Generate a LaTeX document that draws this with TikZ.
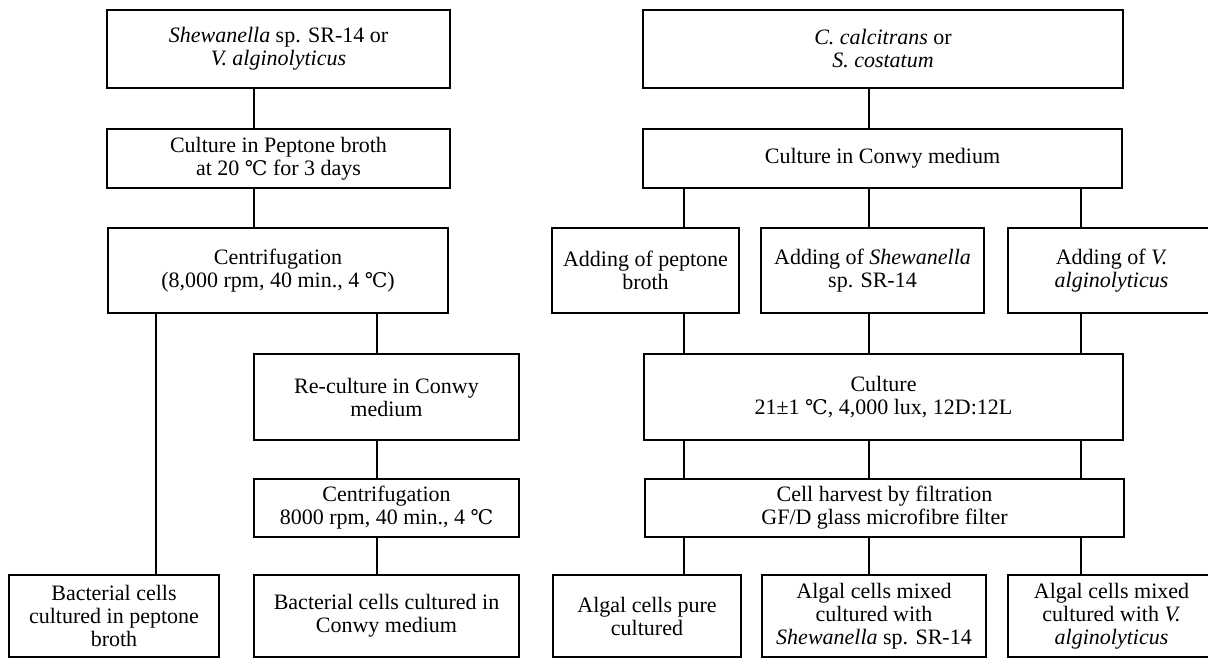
\documentclass[tikz,border=0pt]{standalone}
\usepackage{fontspec}
\setmainfont{Liberation Serif}
\newfontfamily\dgfont{DejaVu Serif}[Scale=0.92]
\newcommand{\degC}{{\dgfont ℃}}
\begin{document}
\begin{tikzpicture}[x=0.5pt,y=-0.5pt,
  box/.style={draw, line width=1.3pt, align=center, inner sep=0pt, outer sep=0pt,
              font=\fontsize{11}{11.5}\selectfont},
  conn/.style={line width=0.6pt}]
\useasboundingbox (0,0) rectangle (1208,659);
\clip (0,0) rectangle (1208,659);
% left branch
\node[box, minimum width=171.5pt, minimum height=39pt] (L1) at (278.5,49)
  {\textit{Shewanella} sp. SR-14 or\\\textit{V. alginolyticus}};
\node[box, minimum width=171.5pt, minimum height=29.5pt] (L2) at (278.5,158.5)
  {Culture in Peptone broth\\at 20 \degC{} for 3 days};
\node[box, minimum width=170pt, minimum height=42.5pt] (L3) at (278,270.5)
  {Centrifugation\\(8,000 rpm, 40 min., 4 \degC)};
\node[box, minimum width=132.5pt, minimum height=43pt] (L4) at (386.5,397)
  {Re-culture in Conwy\\medium};
\node[box, minimum width=132.5pt, minimum height=29pt] (L5) at (386.5,508)
  {Centrifugation\\8000 rpm, 40 min., 4 \degC};
\node[box, minimum width=105pt, minimum height=41pt] (L6) at (114,616)
  {Bacterial cells\\cultured in peptone\\broth};
\node[box, minimum width=132.5pt, minimum height=41pt] (L7) at (386.5,616)
  {Bacterial cells cultured in\\Conwy medium};
% right branch
\node[box, minimum width=240pt, minimum height=39pt] (R1) at (883,49)
  {\textit{C. calcitrans} or\\\textit{S. costatum}};
\node[box, minimum width=239.5pt, minimum height=29.5pt] (R2) at (882.5,158.5)
  {Culture in Conwy medium};
\node[box, minimum width=93.5pt, minimum height=42.5pt] (R3a) at (645.5,270.5)
  {Adding of peptone\\broth};
\node[box, minimum width=111.5pt, minimum height=42.5pt] (R3b) at (872.5,270.5)
  {Adding of \textit{Shewanella}\\sp. SR-14};
\node[box, minimum width=103.5pt, minimum height=42.5pt] (R3c) at (1111.5,270.5)
  {Adding of \textit{V.}\\\textit{alginolyticus}};
\node[box, minimum width=239.5pt, minimum height=43pt] (R4) at (883.5,397)
  {Culture\\21±1 \degC, 4,000 lux, 12D:12L};
\node[box, minimum width=239.5pt, minimum height=29pt] (R5) at (884.5,508)
  {Cell harvest by filtration\\GF/D glass microfibre filter};
\node[box, minimum width=94pt, minimum height=41pt] (R6a) at (647,616)
  {Algal cells pure\\cultured};
\node[box, minimum width=112pt, minimum height=41pt] (R6b) at (874,616)
  {Algal cells mixed\\cultured with\\\textit{Shewanella} sp. SR-14};
\node[box, minimum width=103.5pt, minimum height=41pt] (R6c) at (1111.5,616)
  {Algal cells mixed\\cultured with \textit{V.}\\\textit{alginolyticus}};
% connector columns
\coordinate (xa) at (254,0);
\coordinate (xb) at (156,0);
\coordinate (xc) at (377,0);
\coordinate (xd) at (684,0);
\coordinate (xe) at (869,0);
\coordinate (xf) at (1081,0);
\draw[conn] (xa |- L1.south) -- (xa |- L2.north);
\draw[conn] (xa |- L2.south) -- (xa |- L3.north);
\draw[conn] (xb |- L3.south) -- (xb |- L6.north);
\draw[conn] (xc |- L3.south) -- (xc |- L4.north);
\draw[conn] (xc |- L4.south) -- (xc |- L5.north);
\draw[conn] (xc |- L5.south) -- (xc |- L7.north);
\draw[conn] (xe |- R1.south) -- (xe |- R2.north);
\draw[conn] (xd |- R2.south) -- (xd |- R3a.north);
\draw[conn] (xe |- R2.south) -- (xe |- R3b.north);
\draw[conn] (xf |- R2.south) -- (xf |- R3c.north);
\draw[conn] (xd |- R3a.south) -- (xd |- R4.north);
\draw[conn] (xe |- R3b.south) -- (xe |- R4.north);
\draw[conn] (xf |- R3c.south) -- (xf |- R4.north);
\draw[conn] (xd |- R4.south) -- (xd |- R5.north);
\draw[conn] (xe |- R4.south) -- (xe |- R5.north);
\draw[conn] (xf |- R4.south) -- (xf |- R5.north);
\draw[conn] (xd |- R5.south) -- (xd |- R6a.north);
\draw[conn] (xe |- R5.south) -- (xe |- R6b.north);
\draw[conn] (xf |- R5.south) -- (xf |- R6c.north);
\end{tikzpicture}
\end{document}
